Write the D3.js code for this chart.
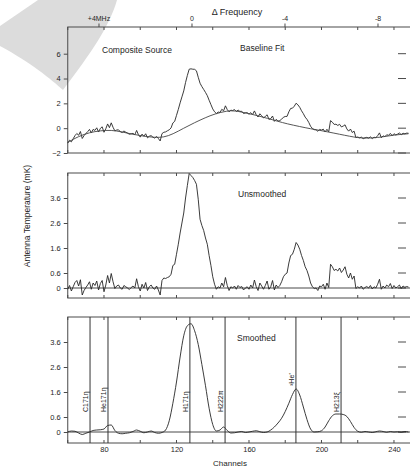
<!DOCTYPE html>
<html><head><meta charset="utf-8">
<script src="https://cdn.jsdelivr.net/npm/d3@7"></script>
<style>
body{margin:0;background:#fff}
svg{display:block}
text{font-family:"Liberation Sans",Arial,sans-serif;fill:#1e1e1e}
</style>
</head><body>
<svg id="chart" width="410" height="467"></svg>
<script>
// Spectrum channels start here; every series below holds one value per channel
const firstChannel = 60;

// Composite source spectrum (raw, before baseline removal)
const composite = [
  -1.20,-0.97,-1.10,-0.85,-0.60,-0.43,-0.57,-0.27,-0.83,-0.60,
  -0.43,-0.28,-0.10,-0.38,-0.10,-0.18, 0.03,-0.31,-0.02, 0.11,
  -0.33,-0.05, 0.34, 0.04, 0.43, 0.07,-0.22,-0.15,-0.13,-0.28,
  -0.35,-0.23,-0.32,-0.40,-0.49,-0.45,-0.42,-0.53,-0.18,-0.53,
  -0.72,-0.48,-0.65,-0.45,-0.78,-0.65,-0.60,-0.73,-0.80,-0.67,
  -0.83,-1.03,-0.44,-0.33,-0.30,-0.21,-0.13, 0.02, 0.42, 0.55,
   1.03, 1.51, 2.04, 2.52, 3.00, 3.68, 4.25, 4.75, 4.78, 4.75,
   4.74, 4.62, 4.10, 3.62, 3.35, 3.12, 2.88, 2.62, 2.25, 1.90,
   1.55, 1.32, 1.18, 1.30, 1.26, 1.52, 1.40, 1.80, 1.50, 1.32,
   1.45, 1.42, 1.50, 1.34, 1.46, 1.35, 1.36, 1.18, 1.23, 1.25,
   1.12, 1.25, 1.10, 1.39, 1.08, 0.90, 1.16, 1.00, 0.83, 0.94,
   1.08, 0.71, 0.77, 0.98, 0.55, 0.71, 0.57, 0.61, 0.72, 0.88,
   0.94, 0.95, 1.32, 1.59, 1.61, 1.77, 2.01, 1.88, 1.68, 1.40,
   1.17, 0.89, 0.71, 0.46, 0.15,-0.03,-0.12,-0.13,-0.25,-0.10,
  -0.15,-0.08,-0.31,-0.09,-0.29, 0.61, 0.48, 0.30, 0.32, 0.22,
   0.31, 0.10, 0.17, 0.27,-0.06,-0.24,-0.07,-0.35,-0.24,-0.76,
  -0.71,-0.78,-0.72,-0.85,-0.78,-0.74,-0.80,-0.70,-0.84,-0.73,
  -0.77,-0.60,-0.38,-0.77,-0.62,-0.68,-0.53,-0.58,-0.42,-0.60,
  -0.45,-0.54,-0.48,-0.39,-0.52,-0.41,-0.45,-0.40,-0.41
];

// Baseline fit through the composite spectrum
const baselineChannels = [60, 66, 72, 78, 84, 90, 96, 102, 108, 113, 118, 124, 130, 136, 141, 148, 152, 159, 165, 170, 176, 181, 188, 194, 200, 207, 213, 218, 222, 228, 234, 240, 248];
const baselineValues   = [-1.15,-0.65,-0.35,-0.20,-0.15,-0.30,-0.50,-0.65,-0.75,-0.74,-0.48,0.00,0.45,0.85,1.15,1.40,1.42,1.20,1.00,0.80,0.55,0.35,0.13,-0.05,-0.20,-0.40,-0.58,-0.72,-0.80,-0.80,-0.70,-0.55,-0.45];

// Baseline-subtracted spectrum, unsmoothed (mK)
const unsmoothed = [
  -0.05, 0.10,-0.12, 0.05, 0.22, 0.30, 0.08, 0.33,-0.28,-0.10,
   0.02, 0.12, 0.25,-0.05, 0.20, 0.10, 0.28,-0.08, 0.18, 0.30,
  -0.15, 0.12, 0.50, 0.20, 0.58, 0.25,-0.02, 0.08, 0.12, 0.00,
  -0.05, 0.10, 0.05, 0.00,-0.06, 0.02, 0.08, 0.00, 0.37, 0.05,
  -0.12, 0.15, 0.00, 0.22,-0.10, 0.05, 0.12, 0.00,-0.05, 0.08,
  -0.08,-0.28, 0.30, 0.40, 0.38, 0.42, 0.45, 0.55, 0.90, 0.95,
   1.35, 1.75, 2.20, 2.60, 3.00, 3.60, 4.10, 4.58, 4.50, 4.42,
   4.30, 4.15, 3.55, 2.75, 2.50, 2.30, 2.00, 1.75, 1.30, 0.90,
   0.45, 0.15,-0.05, 0.05, 0.00, 0.20, 0.05, 0.42, 0.10,-0.10,
   0.05, 0.00, 0.08,-0.05, 0.10, 0.02, 0.06,-0.08, 0.00, 0.05,
  -0.05, 0.12, 0.00, 0.32, 0.05,-0.10, 0.20, 0.08,-0.05, 0.10,
   0.28,-0.05, 0.05, 0.30,-0.08, 0.12, 0.02, 0.10, 0.25, 0.45,
   0.55, 0.60, 1.00, 1.30, 1.35, 1.55, 1.82, 1.72, 1.55, 1.30,
   1.10, 0.85, 0.70, 0.48, 0.20, 0.05,-0.02, 0.00,-0.10, 0.08,
   0.05, 0.15,-0.05, 0.20, 0.02, 0.95, 0.85, 0.70, 0.75, 0.68,
   0.80, 0.62, 0.72, 0.85, 0.55, 0.40, 0.60, 0.35, 0.48,-0.02,
   0.05, 0.00, 0.08,-0.05, 0.02, 0.06, 0.00, 0.10,-0.04, 0.05,
   0.00, 0.15, 0.35,-0.05, 0.08, 0.00, 0.12, 0.05, 0.18,-0.02,
   0.10, 0.00, 0.05, 0.12,-0.02, 0.08, 0.03, 0.06, 0.04
];

// Smoothed spectrum, one value every 2 channels from channel 60
const smoothStep = 2;
const smoothed = [
   0.00, 0.04, 0.03,-0.04,-0.10,-0.05, 0.00, 0.06, 0.08, 0.09,
   0.12, 0.26, 0.28, 0.06,-0.05,-0.07,-0.05,-0.03, 0.02, 0.08,
   0.03,-0.03, 0.00, 0.04,-0.02,-0.05,-0.02, 0.08, 0.45, 1.15,
   2.00, 3.00, 3.85, 4.25, 4.33, 4.05, 3.50, 2.70, 1.85, 0.95,
   0.30, 0.04, 0.08, 0.20, 0.06,-0.04,-0.03, 0.00, 0.02,-0.02,
   0.00, 0.03, 0.05, 0.01,-0.02, 0.00, 0.08, 0.20, 0.36, 0.55,
   0.82, 1.15, 1.50, 1.72, 1.48, 1.00, 0.50, 0.12, 0.00, 0.01,
   0.05, 0.20, 0.45, 0.65, 0.72, 0.72, 0.70, 0.62, 0.42, 0.18,
   0.03,-0.01, 0.02, 0.00,-0.02, 0.01, 0.04, 0.02,-0.01, 0.02,
   0.00, 0.01,-0.01, 0.02, 0.00
];

// Recombination lines marked on the smoothed spectrum
const lineNames    = ["C171η", "He171η", "H171η", "H222π", "³He⁺", "H213ξ"];
const lineChannels = [72.3, 82.2, 127.4, 146.8, 185.9, 210.8];

// Axis ticks
const channelTicks     = [80, 120, 160, 200, 240];
const channelMinorTicks = [60, 80, 100, 120, 140, 160, 180, 200, 220, 240];
const freqTicks  = [4, 0, -4, -8];
const freqLabels = ["+4MHz", "0", "-4", "-8"];
const compositeTicks = [6, 4, 2, 0, -2];
const spectrumTicks  = [3.6, 2.6, 1.6, 0.6, 0];

const svg = d3.select("#chart");
const ink = "#262626";

// light decorative swoosh in the upper-left corner
svg.append("path")
  .attr("d", "M38,0 L117,0 C110,25 92,52 63,90 C52,80 30,62 0,46 L0,26 Z")
  .attr("fill", "#dcdcdc");

const x = d3.scaleLinear().domain([60, 250]).range([67.75, 412.1]);
// frequency offset shares the same horizontal span (0 MHz near channel 128.5)
const xf = d3.scaleLinear().domain([5.344, -9.467]).range([67.75, 412.1]);

function drawPanel(top, bottom, yDomain, ticks, fmt) {
  const y = d3.scaleLinear().domain(yDomain).range([bottom, top]);
  const g = svg.append("g");
  const x0 = x.range()[0], x1 = x.range()[1];
  g.append("rect").attr("x", x0).attr("y", top)
    .attr("width", x1 - x0).attr("height", bottom - top)
    .attr("fill", "none").attr("stroke", "#4a4a4a").attr("stroke-width", 1);
  // channel ticks on top and bottom edges, pointing inward
  channelMinorTicks.forEach(c => {
    g.append("line").attr("x1", x(c)).attr("x2", x(c)).attr("y1", bottom).attr("y2", bottom - 3)
      .attr("stroke", "#4a4a4a");
    g.append("line").attr("x1", x(c)).attr("x2", x(c)).attr("y1", top).attr("y2", top + 3)
      .attr("stroke", "#4a4a4a");
  });
  // value ticks: left axis via d3.axisLeft, mirrored short marks on the right
  const ax = d3.axisLeft(y).tickValues(ticks).tickSize(4).tickPadding(3).tickFormat(fmt);
  const axg = g.append("g").attr("transform", `translate(${x0},0)`).call(ax);
  axg.select(".domain").remove();
  axg.selectAll(".tick line").attr("stroke", "#4a4a4a");
  axg.selectAll(".tick text").attr("font-size", 7.5).attr("fill", "#2a2a2a")
    .attr("font-family", '"Liberation Sans",Arial,sans-serif');
  ticks.forEach(t => {
    g.append("line").attr("x1", 398).attr("x2", 406).attr("y1", y(t)).attr("y2", y(t))
      .attr("stroke", "#4a4a4a");
  });
  return y;
}

// ---- Panel 1: composite source with baseline fit
const y1 = drawPanel(27, 153, [-2, 8.15], compositeTicks, d3.format("d"));
const line1 = d3.line().x((d, i) => x(firstChannel + i)).y(d => y1(d));
svg.append("path").datum(composite).attr("d", line1)
  .attr("fill", "none").attr("stroke", ink).attr("stroke-width", 0.9);
const baseLine = d3.line().x(d => x(d[0])).y(d => y1(d[1])).curve(d3.curveBasis);
svg.append("path").datum(baselineChannels.map((c, i) => [c, baselineValues[i]])).attr("d", baseLine)
  .attr("fill", "none").attr("stroke", "#444").attr("stroke-width", 0.9);
svg.append("text").attr("x", 102).attr("y", 53).attr("font-size", 8.5).text("Composite Source");
svg.append("text").attr("x", 240).attr("y", 51).attr("font-size", 8.5).text("Baseline Fit");

// top frequency axis
freqTicks.forEach((f, i) => {
  svg.append("line").attr("x1", xf(f)).attr("x2", xf(f)).attr("y1", 27).attr("y2", 23.5)
    .attr("stroke", "#4a4a4a");
  svg.append("text").attr("x", xf(f)).attr("y", 21).attr("text-anchor", "middle")
    .attr("font-size", 7).text(freqLabels[i]);
});
svg.append("text").attr("x", 237).attr("y", 15).attr("text-anchor", "middle")
  .attr("font-size", 9).text("Δ Frequency");

// ---- Panel 2: unsmoothed
const y2 = drawPanel(173, 298, [-0.4, 4.6], spectrumTicks, d3.format("~g"));
svg.append("line").attr("x1", x(60)).attr("x2", x(250)).attr("y1", y2(0)).attr("y2", y2(0))
  .attr("stroke", "#333").attr("stroke-width", 0.9);
const line2 = d3.line().x((d, i) => x(firstChannel + i)).y(d => y2(d));
svg.append("path").datum(unsmoothed).attr("d", line2)
  .attr("fill", "none").attr("stroke", ink).attr("stroke-width", 0.9);
svg.append("text").attr("x", 238).attr("y", 197).attr("font-size", 8.5).text("Unsmoothed");

// ---- Panel 3: smoothed with line identifications
const y3 = drawPanel(317, 443, [-0.44, 4.6], spectrumTicks, d3.format("~g"));
svg.append("line").attr("x1", x(60)).attr("x2", x(250)).attr("y1", y3(0)).attr("y2", y3(0))
  .attr("stroke", "#333").attr("stroke-width", 0.9);
const line3 = d3.line().x((d, i) => x(firstChannel + i * smoothStep)).y(d => y3(d)).curve(d3.curveMonotoneX);
svg.append("path").datum(smoothed).attr("d", line3)
  .attr("fill", "none").attr("stroke", ink).attr("stroke-width", 0.9);
lineChannels.forEach((c, i) => {
  svg.append("line").attr("x1", x(c)).attr("x2", x(c)).attr("y1", 317).attr("y2", 443)
    .attr("stroke", "#333").attr("stroke-width", 1);
  const yb = lineNames[i] === "³He⁺" ? 386 : 412;
  svg.append("text").attr("transform", `translate(${x(c) - 2},${yb}) rotate(-90)`)
    .attr("font-size", 7).text(lineNames[i]);
});
svg.append("text").attr("x", 237).attr("y", 341).attr("font-size", 8.5).text("Smoothed");

// bottom channel axis
const axB = d3.axisBottom(x).tickValues(channelTicks).tickSize(0).tickPadding(4).tickFormat(d3.format("d"));
const gB = svg.append("g").attr("transform", "translate(0,443)").call(axB);
gB.select(".domain").remove();
gB.selectAll(".tick text").attr("font-size", 7.5).attr("fill", "#2a2a2a")
  .attr("font-family", '"Liberation Sans",Arial,sans-serif');
svg.append("text").attr("x", 230).attr("y", 466).attr("text-anchor", "middle")
  .attr("font-size", 8).text("Channels");

// shared y-axis title
svg.append("text").attr("transform", "translate(30,216) rotate(-90)").attr("text-anchor", "middle")
  .attr("font-size", 8.5).text("Antenna Temperature (mK)");
</script>
</body></html>
